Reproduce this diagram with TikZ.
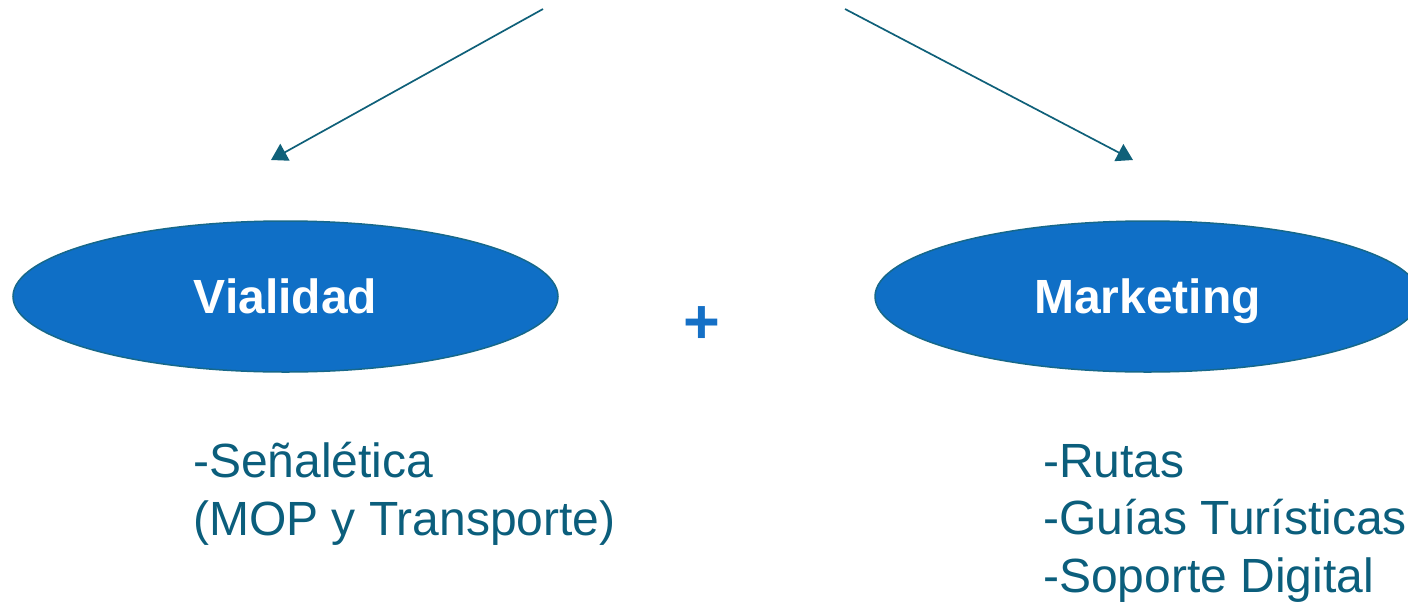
\documentclass[tikz,border=0pt]{standalone}
\usepackage{fontspec}
\setmainfont{Liberation Sans}
\usetikzlibrary{shapes.geometric,arrows.meta}
\definecolor{ellfill}{HTML}{0F6FC6}
\definecolor{ellline}{HTML}{16688A}
\definecolor{txtteal}{HTML}{0B5E7C}
\definecolor{arrteal}{HTML}{0F6079}
\definecolor{plusblue}{HTML}{1570C6}
\tikzset{
  ellbox/.style={ellipse, draw=ellline, line width=1.5pt, fill=ellfill,
    minimum width=545pt, minimum height=151pt, inner sep=0pt,
    text=white, font=\bfseries\fontsize{48}{56}\selectfont,
    text height=34pt, text depth=0pt},
  itemtext/.style={anchor=base west, align=left, inner sep=0pt, text=txtteal,
    font=\fontsize{48}{57.5}\selectfont},
  arrline/.style={draw=arrteal, line width=1.7pt,
    -{Triangle[width=19pt,length=16pt]}},
}
\begin{document}
\begin{tikzpicture}[x=1pt,y=-1pt]
\useasboundingbox (0,0) rectangle (1408,603);
\clip (0,0) rectangle (1408,603);
\coordinate (srcL) at (543,9);
\coordinate (srcR) at (845,9);
\coordinate (tipL) at (271,160);
\coordinate (tipR) at (1133,160);
\draw[arrline] (srcL) -- (tipL);
\draw[arrline] (srcR) -- (tipR);
\node[ellbox] (vial) at (285.5,296.5) {Vialidad};
\node[ellbox] (mark) at (1147.5,296.5) {Marketing};
\node[anchor=base, inner sep=0pt, text=plusblue, font=\bfseries\fontsize{63}{70}\selectfont] (plus) at (702,343) {+};
\node[itemtext] (vialitems) at (193,535) {-Señalética\\(MOP y Transporte)};
\node[itemtext] (markitems) at (1043,592) {-Rutas\\-Guías Turísticas\\-Soporte Digital};
\end{tikzpicture}
\end{document}
